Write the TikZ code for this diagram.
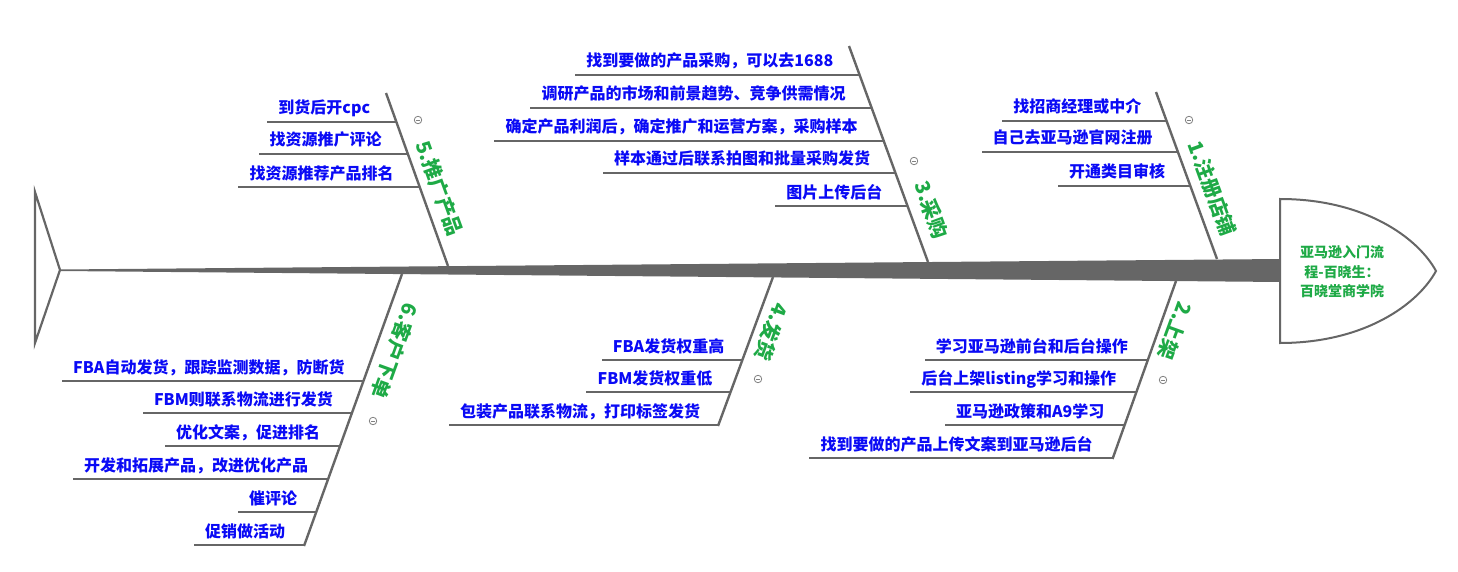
\documentclass[tikz,border=0pt]{standalone}
\usepackage{fontspec}
\setmainfont{Noto Sans CJK SC}
\usetikzlibrary{calc}
\definecolor{linegray}{RGB}{102,102,102}
\definecolor{itemblue}{RGB}{10,10,245}
\definecolor{labgreen}{RGB}{30,170,70}
\definecolor{markgray}{RGB}{130,130,130}
\tikzset{
  item/.style={font=\fontsize{16}{18}\selectfont\bfseries, text=itemblue, inner sep=0pt, anchor=base east},
  blabel/.style={font=\fontsize{20}{22}\selectfont\bfseries, text=labgreen, inner sep=0pt},
  subline/.style={draw=linegray, line width=2pt},
  bone/.style={draw=linegray, line width=2.4pt},
  collapser/.style={circle, draw=markgray, fill=white, line width=0.8pt, minimum size=7.5pt, inner sep=0pt,
    path picture={\draw[markgray, line width=0.8pt] ([xshift=-2pt]path picture bounding box.center) -- ([xshift=2pt]path picture bounding box.center);}},
  headtext/.style={font=\fontsize{14}{19.5}\selectfont\bfseries, text=labgreen, align=center, inner sep=0pt}
}
\begin{document}
\begin{tikzpicture}[x=1pt,y=-1pt]
\useasboundingbox (0,0) rectangle (1458,572);
% spine
\fill[linegray] (60,269.5) -- (1281,259) -- (1281,282) -- (60,271) -- cycle;
% tail
\draw[linegray, line width=2.2pt, line join=miter] (35,192) -- (60,270) -- (35,343) -- cycle;
% head
\draw[linegray, line width=2pt, fill=white] (1280,199) .. controls (1365,199) and (1418,238) .. (1436,271) .. controls (1418,304) and (1365,343) .. (1280,343) -- cycle;
\node[headtext] (head) at (1342,272) {亚马逊入门流\\程-百晓生：\\百晓堂商学院};

% ---------- branch 5 ----------
\coordinate (b5s) at (386,93); \coordinate (b5e) at (448,266);
\draw[bone] (b5s) -- (b5e);
\coordinate (b5a) at (396.4,122);
\coordinate (b5b) at (407.9,154);
\coordinate (b5c) at (419.7,187);
\node[item] (t5a) at ($(b5a)+(-26,-8)$) {到货后开cpc};
\node[item] (t5b) at ($(b5b)+(-26,-8)$) {找资源推广评论};
\node[item] (t5c) at ($(b5c)+(-26,-8)$) {找资源推荐产品排名};
\draw[subline] (b5a) -- ($(t5a.west |- b5a)+(-11,0)$);
\draw[subline] (b5b) -- ($(t5b.west |- b5b)+(-11,0)$);
\draw[subline] (b5c) -- ($(t5c.west |- b5c)+(-11,0)$);
\node[blabel, rotate=-70] (l5) at (439.5,188.5) {5.推广产品};
\node[collapser] (m5) at (418,120) {};

% ---------- branch 3 ----------
\coordinate (b3s) at (849,46); \coordinate (b3e) at (928,262);
\draw[bone] (b3s) -- (b3e);
\coordinate (b3a) at (859.6,75);
\coordinate (b3b) at (871.7,108);
\coordinate (b3c) at (883.7,141);
\coordinate (b3d) at (895.4,173);
\coordinate (b3e2) at (907.5,206);
\node[item] (t3a) at ($(b3a)+(-26,-8)$) {找到要做的产品采购，可以去1688};
\node[item] (t3b) at ($(b3b)+(-26,-8)$) {调研产品的市场和前景趋势、竞争供需情况};
\node[item] (t3c) at ($(b3c)+(-26,-8)$) {确定产品利润后，确定推广和运营方案，采购样本};
\node[item] (t3d) at ($(b3d)+(-25,-8)$) {样本通过后联系拍图和批量采购发货};
\node[item] (t3e) at ($(b3e2)+(-25,-8)$) {图片上传后台};
\draw[subline] (b3a) -- ($(t3a.west |- b3a)+(-11,0)$);
\draw[subline] (b3b) -- ($(t3b.west |- b3b)+(-11,0)$);
\draw[subline] (b3c) -- ($(t3c.west |- b3c)+(-11,0)$);
\draw[subline] (b3d) -- ($(t3d.west |- b3d)+(-11,0)$);
\draw[subline] (b3e2) -- ($(t3e.west |- b3e2)+(-11,0)$);
\node[blabel, rotate=-70] (l3) at (931.5,210) {3.采购};
\node[collapser] (m3) at (914,161) {};

% ---------- branch 1 ----------
\coordinate (b1s) at (1156,92); \coordinate (b1e) at (1217,259);
\draw[bone] (b1s) -- (b1e);
\coordinate (b1a) at (1166.6,121);
\coordinate (b1b) at (1177.9,152);
\coordinate (b1c) at (1190.3,186);
\node[item] (t1a) at ($(b1a)+(-25,-8)$) {找招商经理或中介};
\node[item] (t1b) at ($(b1b)+(-25,-8)$) {自己去亚马逊官网注册};
\node[item] (t1c) at ($(b1c)+(-25,-8)$) {开通类目审核};
\draw[subline] (b1a) -- ($(t1a.west |- b1a)+(-11,0)$);
\draw[subline] (b1b) -- ($(t1b.west |- b1b)+(-11,0)$);
\draw[subline] (b1c) -- ($(t1c.west |- b1c)+(-11,0)$);
\node[blabel, rotate=-70] (l1) at (1212,188.5) {1.注册店铺};
\node[collapser] (m1) at (1189,120) {};

% ---------- branch 2 ----------
\coordinate (b2s) at (1176,281); \coordinate (b2e) at (1112.5,459);
\draw[bone] (b2s) -- (b2e);
\coordinate (b2a) at (1148,360);
\coordinate (b2b) at (1136.4,392);
\coordinate (b2c) at (1124.6,425);
\coordinate (b2d) at (1112.7,458);
\node[item] (t2a) at ($(b2a)+(-20,-8)$) {学习亚马逊前台和后台操作};
\node[item] (t2b) at ($(b2b)+(-20,-8)$) {后台上架listing学习和操作};
\node[item] (t2c) at ($(b2c)+(-20,-8)$) {亚马逊政策和A9学习};
\node[item] (t2d) at ($(b2d)+(-20,-8)$) {找到要做的产品上传文案到亚马逊后台};
\draw[subline] (b2a) -- ($(t2a.west |- b2a)+(-11,0)$);
\draw[subline] (b2b) -- ($(t2b.west |- b2b)+(-11,0)$);
\draw[subline] (b2c) -- ($(t2c.west |- b2c)+(-11,0)$);
\draw[subline] (b2d) -- ($(t2d.west |- b2d)+(-11,0)$);
\node[blabel, rotate=-110] (l2) at (1175,331) {2.上架};
\node[collapser] (m2) at (1163,380) {};

% ---------- branch 4 ----------
\coordinate (b4s) at (773,277); \coordinate (b4e) at (718,426);
\draw[bone] (b4s) -- (b4e);
\coordinate (b4a) at (742.5,360);
\coordinate (b4b) at (730.6,392);
\coordinate (b4c) at (718.4,425);
\node[item] (t4a) at ($(b4a)+(-18,-8)$) {FBA发货权重高};
\node[item] (t4b) at ($(b4b)+(-18,-8)$) {FBM发货权重低};
\node[item] (t4c) at ($(b4c)+(-18,-8)$) {包装产品联系物流，打印标签发货};
\draw[subline] (b4a) -- ($(t4a.west |- b4a)+(-11,0)$);
\draw[subline] (b4b) -- ($(t4b.west |- b4b)+(-11,0)$);
\draw[subline] (b4c) -- ($(t4c.west |- b4c)+(-11,0)$);
\node[blabel, rotate=-110] (l4) at (771.5,332) {4.发货};
\node[collapser] (m4) at (758,379) {};

% ---------- branch 6 ----------
\coordinate (b6s) at (402,274); \coordinate (b6e) at (304,546);
\draw[bone] (b6s) -- (b6e);
\coordinate (b6a) at (363.7,381);
\coordinate (b6b) at (352.1,413);
\coordinate (b6c) at (340.2,446);
\coordinate (b6d) at (328.2,479);
\coordinate (b6f1) at (316.3,512);
\coordinate (b6g) at (304.4,545);
\node[item] (t6a) at ($(b6a)+(-19,-8)$) {FBA自动发货，跟踪监测数据，防断货};
\node[item] (t6b) at ($(b6b)+(-19,-8)$) {FBM则联系物流进行发货};
\node[item] (t6c) at ($(b6c)+(-20,-8)$) {优化文案，促进排名};
\node[item] (t6d) at ($(b6d)+(-20,-8)$) {开发和拓展产品，改进优化产品};
\node[item] (t6e) at ($(b6f1)+(-19,-8)$) {催评论};
\node[item] (t6f) at ($(b6g)+(-19,-8)$) {促销做活动};
\draw[subline] (b6a) -- ($(t6a.west |- b6a)+(-11,0)$);
\draw[subline] (b6b) -- ($(t6b.west |- b6b)+(-11,0)$);
\draw[subline] (b6c) -- ($(t6c.west |- b6c)+(-11,0)$);
\draw[subline] (b6d) -- ($(t6d.west |- b6d)+(-11,0)$);
\draw[subline] (b6f1) -- ($(t6e.west |- b6f1)+(-11,0)$);
\draw[subline] (b6g) -- ($(t6f.west |- b6g)+(-11,0)$);
\node[blabel, rotate=-110] (l6) at (395,351) {6.客户下单};
\node[collapser] (m6) at (373,421) {};
\end{tikzpicture}
\end{document}
